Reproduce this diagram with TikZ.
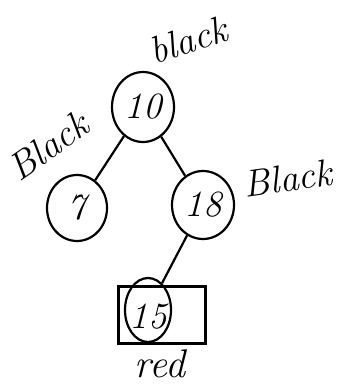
\documentclass[tikz,border=0pt]{standalone}
\usetikzlibrary{shapes.geometric}
\begin{document}
\begin{tikzpicture}[x=1pt,y=-1pt,
  hand/.style={line width=2.2pt,black},
  vertex/.style={ellipse,draw,hand,inner sep=0pt},
  num/.style={font=\fontsize{37}{37}\selectfont\itshape},
  lbl/.style={font=\fontsize{38}{38}\selectfont\itshape,inner sep=0pt}]
\useasboundingbox (0,0) rectangle (340,388);
\node[vertex,minimum width=62pt,minimum height=70pt,num] (n10) at (143,107) {10};
\node[vertex,minimum width=60pt,minimum height=66pt,num] (n7) at (77,208) {7};
\node[vertex,minimum width=62pt,minimum height=68pt,num] (n18) at (203,205) {18};
\node[draw,hand,minimum width=87pt,minimum height=57pt,inner sep=0pt] (box) at (162,315) {};
\node[vertex,minimum width=46pt,minimum height=64pt] (c15) at (148,310) {};
\node[num,inner sep=0pt] (t15) at (148,317) {15};
\node[lbl,rotate=18] (lblack) at (188,40) {black};
\node[lbl,rotate=35] (lB1) at (48,146) {Black};
\node[lbl,rotate=8] (lB2) at (288,178) {Black};
\node[lbl,font=\fontsize{40}{40}\selectfont\itshape] (lred) at (160,364) {red};
\draw[hand] (n10) -- (n7);
\draw[hand] (n10) -- (n18);
\draw[hand] (n18) -- (c15);
\end{tikzpicture}
\end{document}
